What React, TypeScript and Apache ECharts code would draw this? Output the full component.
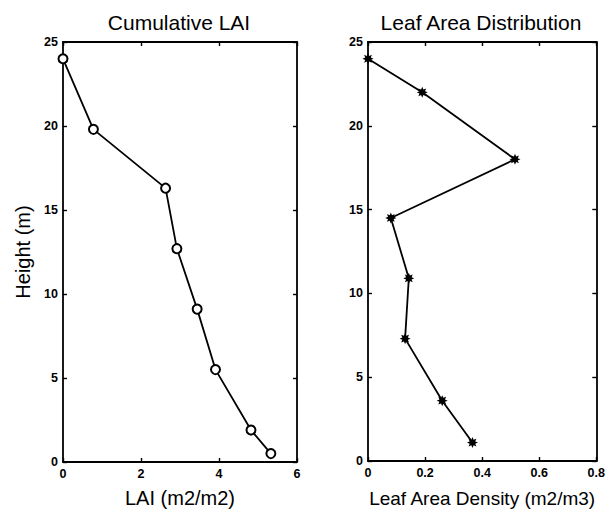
import React, { useEffect, useRef } from "react";
import * as echarts from "echarts";

// Cumulative leaf area index by height
const laiValues = [0, 0.78, 2.63, 2.92, 3.44, 3.91, 4.82, 5.33];
const laiHeights = [24, 19.8, 16.3, 12.7, 9.1, 5.5, 1.9, 0.5];

// Leaf area density by height
const densityValues = [0, 0.19, 0.515, 0.08, 0.143, 0.13, 0.26, 0.366];
const densityHeights = [24, 22, 18, 14.5, 10.9, 7.3, 3.6, 1.1];

const titles = ["Cumulative LAI", "Leaf Area Distribution"];
const xNames = ["LAI (m2/m2)", "Leaf Area Density (m2/m3)"];
const yName = "Height (m)";

const FONT = "'Liberation Sans', Arial, Helvetica, sans-serif";
const INK = "#000";

// eight-pointed asterisk marker
const ASTERISK =
  "path://M10,0 L5.08,2.1 L7.07,7.07 L2.1,5.08 L0,10 L-2.1,5.08 L-7.07,7.07 L-5.08,2.1 L-10,0 L-5.08,-2.1 L-7.07,-7.07 L-2.1,-5.08 L0,-10 L2.1,-5.08 L7.07,-7.07 L5.08,-2.1 Z";

function axisBase(gridIndex: number, showLabels: boolean) {
  return {
    type: "value" as const,
    gridIndex,
    axisLine: { show: true, onZero: false, lineStyle: { color: INK, width: 1.8 } },
    axisTick: { show: true, inside: true, length: 4, lineStyle: { color: INK, width: 1.4 } },
    splitLine: { show: false },
    axisLabel: {
      show: showLabels,
      color: INK,
      fontFamily: FONT,
      fontWeight: "bold" as const,
      fontSize: 12.5,
      margin: 5,
    },
  };
}

export default function App() {
  const ref = useRef<HTMLDivElement>(null);

  useEffect(() => {
    if (!ref.current) return;
    const chart = echarts.init(ref.current, undefined, { renderer: "svg" });
    const nameStyle = { color: INK, fontFamily: FONT, fontSize: 20 };
    const titleStyle = { color: INK, fontFamily: FONT, fontSize: 21, fontWeight: "normal" as const };

    chart.setOption({
      animation: false,
      backgroundColor: "#fff",
      title: [
        { text: titles[0], left: 179, top: 12, padding: 0, textAlign: "center", textStyle: titleStyle },
        { text: titles[1], left: 481, top: 12, padding: 0, textAlign: "center", textStyle: titleStyle },
      ],
      grid: [
        { left: 63, right: 311, top: 42, bottom: 48 },
        { left: 368, right: 10, top: 42, bottom: 50 },
      ],
      xAxis: [
        {
          ...axisBase(0, true),
          position: "bottom",
          min: 0,
          max: 6,
          interval: 2,
          name: xNames[0],
          nameLocation: "middle",
          nameGap: 26,
          nameTextStyle: nameStyle,
        },
        { ...axisBase(0, false), position: "top", min: 0, max: 6, interval: 2 },
        {
          ...axisBase(1, true),
          position: "bottom",
          min: 0,
          max: 0.8,
          interval: 0.2,
          name: xNames[1],
          nameLocation: "middle",
          nameGap: 28,
          nameTextStyle: { ...nameStyle, fontSize: 19 },
        },
        { ...axisBase(1, false), position: "top", min: 0, max: 0.8, interval: 0.2 },
      ],
      yAxis: [
        {
          ...axisBase(0, true),
          position: "left",
          min: 0,
          max: 25,
          interval: 5,
          name: yName,
          nameLocation: "middle",
          nameGap: 30,
          nameTextStyle: nameStyle,
        },
        { ...axisBase(0, false), position: "right", min: 0, max: 25, interval: 5 },
        { ...axisBase(1, true), position: "left", min: 0, max: 25, interval: 5 },
        { ...axisBase(1, false), position: "right", min: 0, max: 25, interval: 5 },
      ],
      series: [
        {
          type: "line",
          xAxisIndex: 0,
          yAxisIndex: 0,
          data: laiValues.map((v, i) => [v, laiHeights[i]]),
          symbol: "emptyCircle",
          symbolSize: 9,
          lineStyle: { color: INK, width: 1.8 },
          itemStyle: { color: INK, borderColor: INK, borderWidth: 1.8 },
          z: 3,
        },
        {
          type: "line",
          xAxisIndex: 2,
          yAxisIndex: 2,
          data: densityValues.map((v, i) => [v, densityHeights[i]]),
          symbol: ASTERISK,
          symbolSize: 11,
          lineStyle: { color: INK, width: 1.8 },
          itemStyle: { color: INK, borderWidth: 0 },
          z: 3,
        },
      ],
    });

    return () => chart.dispose();
  }, []);

  return (
    <div
      ref={ref}
      style={{ position: "absolute", left: 0, top: 0, width: 608, height: 513, background: "#fff" }}
    />
  );
}
